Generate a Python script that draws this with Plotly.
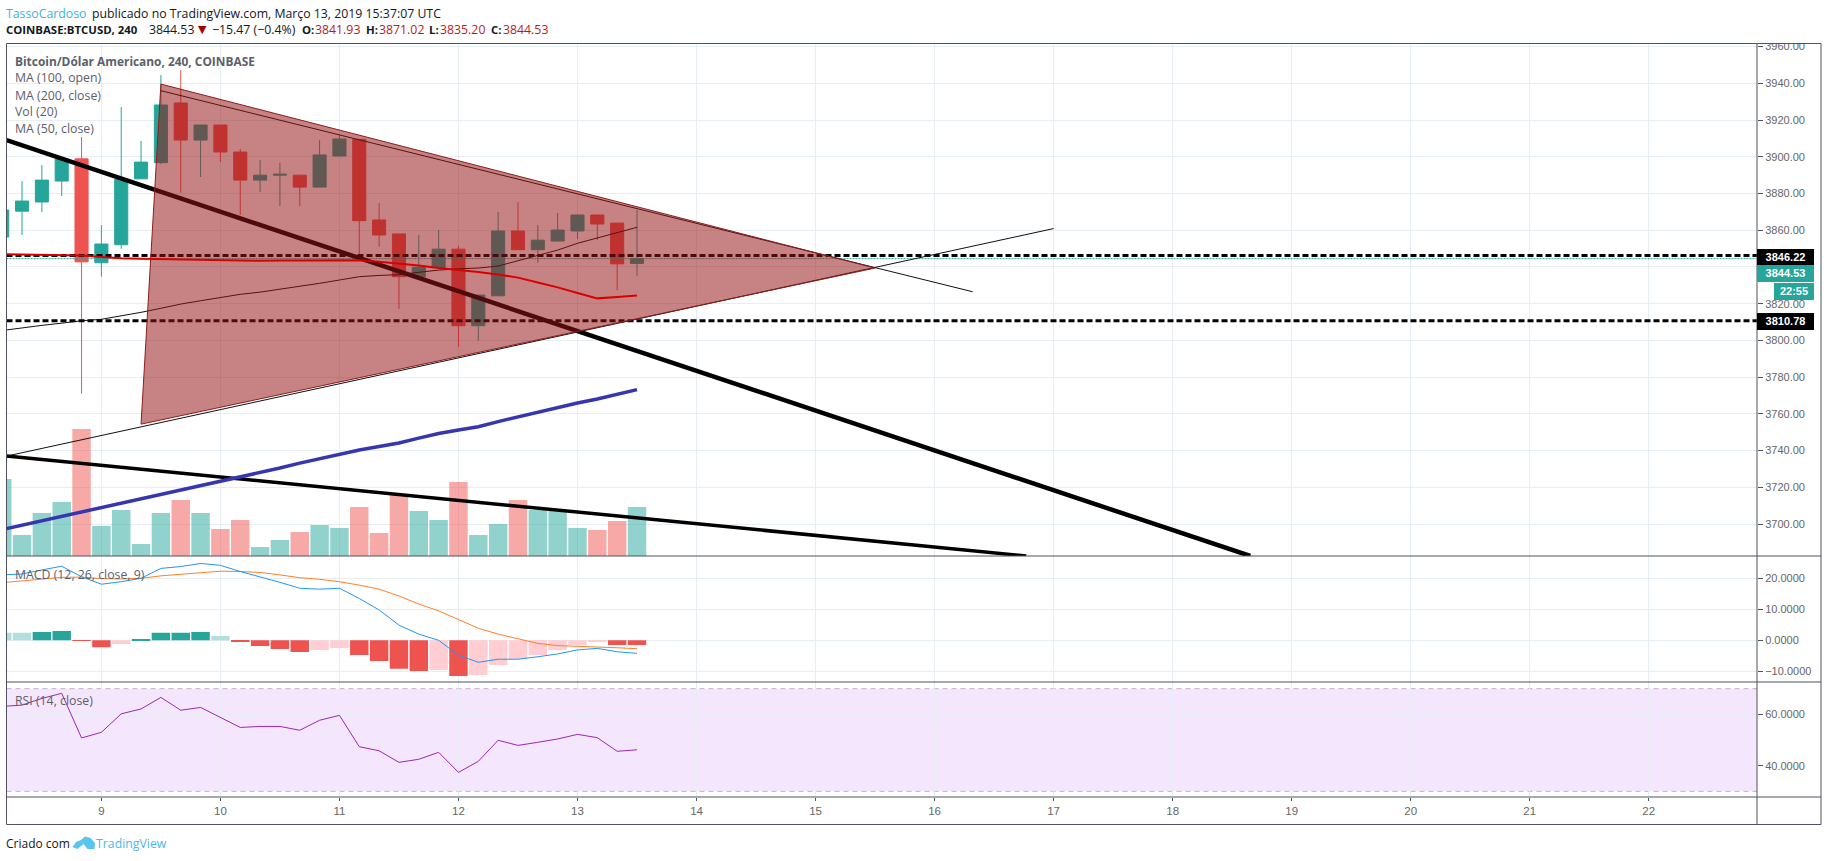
import pandas as pd
import plotly.graph_objects as go
import plotly.subplots as sp

W = 1828
H = 861
TOP_GAP = 3  # page comes out this many px lower at the top, so paper coords are scaled for it

times = pd.date_range("2019-03-08 04:00", periods=33, freq="4h")

opens = [3856.3, 3870.4, 3875.4, 3886.8, 3898.9, 3842.3, 3852.1, 3888.0, 3896.8, 3929.3, 3909.1,
         3917.3, 3902.6, 3887.3, 3890.0, 3890.0, 3883.5, 3900.4, 3909.5, 3865.6, 3858.0, 3834.7,
         3839.6, 3849.7, 3808.0, 3824.3, 3859.6, 3849.4, 3854.1, 3859.6, 3868.3, 3863.9, 3841.93]
highs = [3871.0, 3886.8, 3895.5, 3899.5, 3910.8, 3862.8, 3927.1, 3908.6, 3944.5, 3947.2, 3917.3,
         3917.3, 3904.2, 3898.2, 3896.6, 3890.0, 3909.1, 3911.8, 3909.5, 3874.8, 3858.0, 3857.4,
         3860.1, 3851.5, 3824.7, 3869.9, 3875.3, 3862.8, 3869.4, 3868.8, 3868.3, 3863.9, 3871.02]
lows = [3856.3, 3857.4, 3869.9, 3878.6, 3771.0, 3834.7, 3849.9, 3888.0, 3896.0, 3880.4, 3889.0,
        3897.1, 3868.3, 3880.8, 3873.2, 3873.2, 3883.5, 3900.4, 3845.6, 3851.0, 3817.2, 3834.7,
        3839.6, 3796.5, 3799.8, 3824.3, 3849.4, 3842.3, 3854.1, 3855.2, 3854.6, 3827.4, 3835.20]
closes = [3871.0, 3875.9, 3887.3, 3898.8, 3842.8, 3852.5, 3887.7, 3897.1, 3928.2, 3909.1, 3917.3,
          3902.6, 3887.3, 3890.0, 3890.5, 3883.5, 3901.0, 3909.7, 3865.2, 3857.4, 3834.7, 3839.8,
          3849.7, 3808.0, 3824.7, 3859.6, 3849.4, 3854.6, 3860.1, 3868.3, 3863.4, 3841.7, 3844.53]
volumes = [770, 210, 430, 540, 1270, 300, 460, 120, 430, 560, 430, 270, 360, 90, 160, 240, 310,
           280, 490, 230, 620, 450, 360, 740, 210, 320, 560, 460, 450, 280, 260, 350, 490]

ma_black = [3805.4, 3806.9, 3808.2, 3809.4, 3810.7, 3811.5, 3813.3, 3815.3, 3817.5, 3819.8, 3821.6,
            3823.4, 3825.1, 3826.3, 3827.8, 3829.2, 3831.1, 3832.9, 3834.7, 3835.4, 3835.8, 3837.1,
            3838.3, 3839.0, 3839.4, 3840.5, 3843.4, 3846.1, 3849.2, 3852.9, 3855.7, 3858.6, 3861.6]
ma_red = [3847.0, 3846.9, 3846.8, 3846.6, 3846.3, 3845.4, 3844.7, 3844.5, 3844.3, 3844.0, 3843.8,
          3843.4, 3843.2, 3843.4, 3843.5, 3843.6, 3843.7, 3843.7, 3843.7, 3842.9, 3841.9, 3840.8,
          3839.4, 3838.4, 3837.2, 3835.9, 3834.2, 3831.5, 3828.9, 3825.8, 3822.9, 3823.6, 3824.5]
ma_blue = [3697.0, 3699.4, 3701.6, 3703.9, 3706.2, 3708.7, 3711.1, 3713.6, 3716.0, 3718.2, 3720.7,
           3723.1, 3725.6, 3727.8, 3730.5, 3733.2, 3735.6, 3737.8, 3740.3, 3742.2, 3744.1, 3746.8,
           3749.3, 3751.2, 3753.0, 3755.8, 3758.3, 3761.2, 3763.7, 3765.9, 3768.1, 3770.8, 3773.2]

macd_hist = [2.45, 2.4, 2.7, 3.0, -0.05, -2.2, -1.2, 0.15, 2.4, 2.45, 2.7, 1.4, -0.5, -1.8, -2.8, -3.8,
             -3.1, -2.5, -4.7, -6.7, -9.2, -9.9, -9.6, -11.5, -11.2, -8.0, -6.0, -4.7, -3.1, -1.5,
             -0.5, -1.5, -1.55]
macd_line = [21.1, 21.4, 22.7, 23.9, 20.5, 18.1, 18.9, 20.0, 23.2, 23.8, 24.8, 24.2, 22.2, 20.5, 18.7,
             16.8, 16.5, 16.8, 13.5, 9.8, 4.9, 2.0, 0.0, -4.8, -7.1, -6.1, -6.1, -5.3, -4.4, -3.1,
             -2.6, -3.7, -4.2]
macd_signal = [18.6, 19.1, 19.7, 20.3, 20.4, 19.9, 19.8, 20.0, 20.8, 21.3, 22.0, 22.3, 22.2, 21.9, 21.1,
               20.2, 19.7, 18.9, 17.8, 16.5, 14.3, 11.7, 9.5, 6.6, 3.9, 2.0, 0.4, -1.0, -1.7, -1.9,
               -2.0, -2.4, -2.7]
rsi = [63.1, 63.6, 66.2, 68.2, 50.8, 53.0, 60.2, 62.1, 66.6, 61.6, 62.7, 58.8, 54.9, 55.3, 55.3, 53.8,
       57.7, 59.6, 47.4, 45.8, 41.3, 42.5, 45.2, 37.4, 41.7, 49.9, 47.9, 49.1, 50.4, 52.2, 50.9,
       45.6, 46.2]

# drawings on the price pane: (time, price) pairs
triangle_t = ["2019-03-09 12:00", "2019-03-15 12:00", "2019-03-09 08:00", "2019-03-09 12:00"]
triangle_p = [3939.6, 3839.4, 3754.4, 3939.6]
thick_upper_t = ["2019-03-08 04:52", "2019-03-18 15:40"]
thick_upper_p = [3909.1, 3682.6]
thick_lower_t = ["2019-03-08 04:52", "2019-03-16 18:29"]
thick_lower_p = [3737.0, 3682.6]
thin_rising_t = ["2019-03-08 04:52", "2019-03-17 00:00"]
thin_rising_p = [3737.0, 3860.9]
thin_falling_t = ["2019-03-09 12:00", "2019-03-16 07:41"]
thin_falling_p = [3936.0, 3826.5]
level_high = 3846.22
level_low = 3810.78
last_price = 3844.53

x_range = ["2019-03-08 04:52", "2019-03-22 21:50"]
day_ticks = [f"2019-03-{d:02d}" for d in range(9, 23)]
day_labels = [str(d) for d in range(9, 23)]
price_ticks = list(range(3700, 3961, 20))
price_labels = ["" if t == 3840 else f"{t:.2f}" for t in price_ticks]  # 3840 sits behind the tags
macd_ticks = [-10, 0, 10, 20]
rsi_ticks = [40, 60]

TEAL = "#26a69a"
RED = "#ef5350"
GRID = "#e6eef3"
FRAME = "#50535e"
LABEL = "#5d606b"
UI_FONT = "Open Sans"
AXIS_FONT = "Liberation Sans"


def px(x):
    return x / W


def py(y):
    return 1 - (y - TOP_GAP) / (H - TOP_GAP)


def hist_colors(values):
    # darker shade while the histogram is growing away from zero
    colors = []
    for i, v in enumerate(values):
        prev = values[i - 1] if i else None
        if v >= 0:
            colors.append(TEAL if prev is not None and v > prev else "#b2dfdb")
        else:
            colors.append(RED if prev is not None and v < prev else "#ffcdd2")
    return colors


def note(fig, text, x, y, size=12.3, color="#131722", font=UI_FONT):
    fig.add_annotation(text=text, x=px(x), y=py(y), xref="paper", yref="paper", xanchor="left",
                       yanchor="middle", showarrow=False, borderpad=0, borderwidth=0,
                       font={"size": size, "color": color, "family": font})


def price_tag(fig, text, x, y0, y1, width, bg):
    fig.add_annotation(text=f"<b>{text}</b>", x=px(x), y=py((y0 + y1) / 2), xref="paper", yref="paper",
                       xanchor="left", yanchor="middle", showarrow=False, width=width, height=y1 - y0,
                       align="center", valign="middle", bgcolor=bg, borderpad=0, borderwidth=0,
                       font={"size": 11, "color": "#ffffff", "family": AXIS_FONT})


def line(x, y, color, width, dash="solid"):
    return go.Scatter(x=x, y=y, mode="lines", showlegend=False, hoverinfo="skip",
                      line={"color": color, "width": width, "dash": dash})


def main():
    fig = sp.make_subplots(rows=3, cols=1, shared_xaxes=True, vertical_spacing=0,
                           specs=[[{"secondary_y": True}], [{}], [{}]])

    vol_colors = ["rgba(38,166,154,0.5)" if c >= o else "rgba(239,83,80,0.5)" for o, c in zip(opens, closes)]
    fig.add_trace(go.Bar(x=times, y=volumes, marker={"color": vol_colors, "line": {"width": 0}}, showlegend=False),
                  row=1, col=1, secondary_y=False)
    candles = go.Candlestick(x=times, open=opens, high=highs, low=lows, close=closes, showlegend=False,
                             increasing={"line": {"color": TEAL, "width": 1}, "fillcolor": TEAL},
                             decreasing={"line": {"color": RED, "width": 1}, "fillcolor": RED})
    fig.add_trace(candles, row=1, col=1, secondary_y=True)

    span = [x_range[0], x_range[1]]
    under_triangle = [
        line(span, [level_high, level_high], "#000000", 3, "6px,3px"),
        line(span, [level_low, level_low], "#000000", 3, "6px,3px"),
        line(span, [last_price, last_price], TEAL, 1, "2px,1px"),
        line(thick_upper_t, thick_upper_p, "#000000", 4.5),
        line(thick_lower_t, thick_lower_p, "#000000", 3.5),
        line(thin_rising_t, thin_rising_p, "#111111", 1),
        line(thin_falling_t, thin_falling_p, "#111111", 1),
        line(times, ma_black, "#111111", 1),
    ]
    for tr in under_triangle:
        fig.add_trace(tr, row=1, col=1, secondary_y=True)

    fig.add_trace(go.Scatter(x=triangle_t, y=triangle_p, mode="lines", fill="toself", showlegend=False,
                             hoverinfo="skip", fillcolor="rgba(150,20,20,0.53)",
                             line={"color": "#8e1d1d", "width": 1}),
                  row=1, col=1, secondary_y=True)
    fig.add_trace(line(times, ma_red, "#d90000", 2), row=1, col=1, secondary_y=True)
    fig.add_trace(line(times, ma_blue, "#3636b0", 3.5), row=1, col=1, secondary_y=True)

    fig.add_trace(go.Bar(x=times, y=macd_hist, showlegend=False,
                         marker={"color": hist_colors(macd_hist), "line": {"width": 0}}), row=2, col=1)
    fig.add_trace(line(times, macd_signal, "#ff7f27", 1), row=2, col=1)
    fig.add_trace(line(times, macd_line, "#2196f3", 1), row=2, col=1)

    fig.add_trace(line(times, rsi, "#9c27b0", 1), row=3, col=1)

    x_common = {"range": x_range, "showgrid": True, "gridcolor": GRID, "gridwidth": 1, "zeroline": False,
                "tickvals": day_ticks, "ticktext": day_labels, "showline": False,
                "rangeslider": {"visible": False}, "domain": [px(6.5), px(1757)]}
    fig.update_xaxes(**x_common)
    fig.update_xaxes(row=3, col=1, ticks="outside", ticklen=3, tickcolor=FRAME, showticklabels=True,
                     tickfont={"family": AXIS_FONT, "size": 11.5, "color": "#666666"})

    y_common = {"side": "right", "showgrid": True, "gridcolor": GRID, "gridwidth": 1, "zeroline": False,
                "ticks": "outside", "ticklen": 5, "tickcolor": FRAME, "showline": False,
                "tickfont": {"family": AXIS_FONT, "size": 11, "color": "#666666"}}
    fig.update_yaxes(row=1, col=1, secondary_y=False, visible=False, range=[0, 5125],
                     domain=[py(556), py(43.5)])
    fig.update_yaxes(row=1, col=1, secondary_y=True, range=[3682.6, 3961.7], tickvals=price_ticks,
                     ticktext=price_labels, **y_common)
    fig.update_yaxes(row=2, col=1, range=[-13.45, 27.2], tickvals=macd_ticks, tickformat=".4f",
                     domain=[py(682), py(556)], **y_common)
    fig.update_yaxes(row=3, col=1, range=[27.8, 72.6], tickvals=rsi_ticks, tickformat=".4f",
                     domain=[py(797), py(682)], **y_common)

    # RSI band
    fig.add_shape(type="rect", xref="x3 domain", yref="y4", x0=0, x1=1, y0=30, y1=70, layer="below",
                  fillcolor="rgba(163,47,238,0.12)", line={"width": 0})
    for level in [30, 70]:
        fig.add_shape(type="line", xref="x3 domain", yref="y4", x0=0, x1=1, y0=level, y1=level, layer="below",
                      line={"color": "#c0b4c4", "width": 1, "dash": "5px,4px"})

    # frame around the panes
    frame = {"color": FRAME, "width": 1}
    fig.add_shape(type="rect", xref="paper", yref="paper", x0=px(1759), x1=px(1820), y0=py(43), y1=py(30),
                  fillcolor="#ffffff", line={"width": 0})
    fig.add_shape(type="rect", xref="paper", yref="paper", x0=px(6.5), x1=px(1821), y0=py(824.5), y1=py(43.5),
                  line=frame)
    fig.add_shape(type="line", xref="paper", yref="paper", x0=px(1757), x1=px(1757), y0=py(824.5), y1=py(43.5),
                  line=frame)
    for y in [556, 682, 797]:
        fig.add_shape(type="line", xref="paper", yref="paper", x0=px(6.5), x1=px(1821), y0=py(y), y1=py(y),
                      line=frame)

    # header lines
    note(fig, "TassoCardoso", 6, 13, color="#3bb3e4")
    note(fig, "publicado no TradingView.com, Março 13, 2019 15:37:07 UTC", 92, 13)
    note(fig, "<b>COINBASE:BTCUSD, 240</b>", 6, 30, size=11.4)
    note(fig, "3844.53", 149, 30)
    note(fig, "▼", 198, 30, size=11, color="#a50000", font="DejaVu Sans")
    note(fig, "−15.47 (−0.4%)", 212, 30)
    for label, value, x_label, x_value in [("O:", "3841.93", 301.5, 315), ("H:", "3871.02", 365.5, 379),
                                           ("L:", "3835.20", 429, 440), ("C:", "3844.53", 490.5, 502.5)]:
        note(fig, f"<b>{label}</b>", x_label, 30, size=11.4)
        note(fig, value, x_value, 30, color="#b71c1c")

    # pane legends
    note(fig, "<b>Bitcoin/Dólar Americano, 240, COINBASE</b>", 15, 61, size=11.9, color=LABEL)
    note(fig, "MA (100, open)", 15, 78, color=LABEL)
    note(fig, "MA (200, close)", 15, 95, color=LABEL)
    note(fig, "Vol (20)", 15, 112, color=LABEL)
    note(fig, "MA (50, close)", 15, 128.5, color=LABEL)
    note(fig, "MACD (12, 26, close, 9)", 15, 574, color=LABEL)
    note(fig, "RSI (14, close)", 15, 700, color=LABEL)

    # price scale tags
    price_tag(fig, "3846.22", 1757, 248.5, 264.5, 57, "#000000")
    price_tag(fig, "3844.53", 1757, 265, 281.5, 57, TEAL)
    price_tag(fig, "22:55", 1774, 283, 299.5, 40, TEAL)
    price_tag(fig, "3810.78", 1757, 313, 329.5, 57, "#000000")

    # footer
    note(fig, "Criado com", 6, 843, size=12)
    note(fig, "TradingView", 96, 843, color="#4db8e8")
    logo = [(72.5, 847), (76, 842), (81, 840), (85, 836.5), (90.5, 838), (95, 843), (94.5, 849),
            (87.5, 849), (83.5, 844), (77.5, 849)]
    path = "M " + " L ".join(f"{px(x):.5f} {py(y):.5f}" for x, y in logo) + " Z"
    fig.add_shape(type="path", xref="paper", yref="paper", path=path, fillcolor="#5bc4ea", line={"width": 0})

    fig.update_layout(width=W, height=H, margin={"l": 0, "r": 0, "t": 0, "b": 0}, autosize=False,
                      paper_bgcolor="#ffffff", plot_bgcolor="#ffffff", showlegend=False,
                      bargap=0.07, boxgap=0.34, boxgroupgap=0, hovermode=False)

    fig.write_html("out.html", config={"displayModeBar": False},
                   post_script="document.body.style.margin='0';document.documentElement.style.overflow='hidden';")


if __name__ == "__main__":
    main()
